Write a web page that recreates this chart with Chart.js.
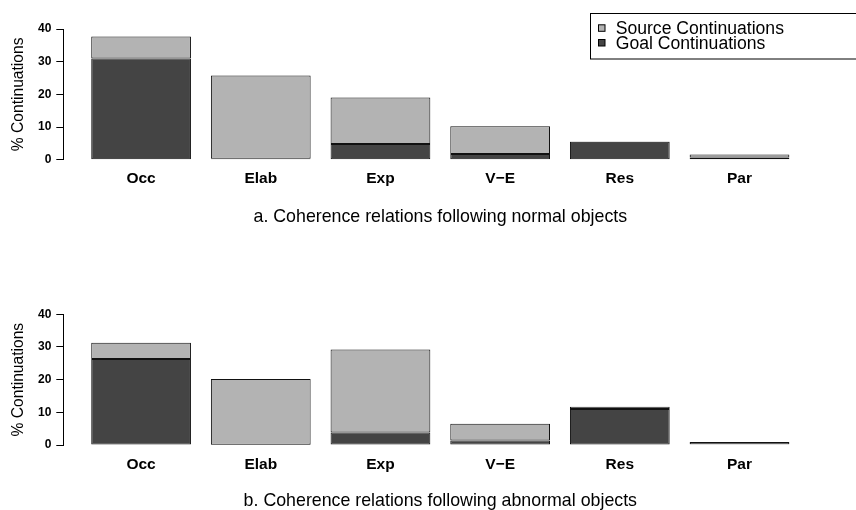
<!DOCTYPE html>
<html><head><meta charset="utf-8">
<script src="https://cdn.jsdelivr.net/npm/chart.js@4.4.0/dist/chart.umd.min.js"></script>
<style>
html,body{margin:0;padding:0;background:#fff;}
#wrap{position:relative;width:856px;height:510px;overflow:hidden;background:#fff;}
.panel{position:absolute;left:0;width:856px;height:255px;}
</style></head><body>
<div id="wrap">
<div class="panel" style="top:0"><canvas id="c1" width="856" height="255"></canvas></div>
<div class="panel" style="top:255px"><canvas id="c2" width="856" height="255"></canvas></div>
</div>
<script>
// ---- data ----
const categories = ['Occ', 'Elab', 'Exp', 'V\u2212E', 'Res', 'Par'];
const seriesNames = ['Source Continuations', 'Goal Continuations'];
const normalSource   = [6.7, 25.5, 14.2, 8.45, 0.1, 0.9];
const normalGoal     = [31.0, 0.3, 4.8, 1.75, 5.5, 0.7];
const abnormalSource = [5.0, 20.1, 25.4, 5.1, 0.7, 0.7];
const abnormalGoal   = [26.3, 0.1, 3.8, 1.4, 11.0, 0.2];
const yTicks = [0, 10, 20, 30, 40];
const captions = ['a. Coherence relations following normal objects',
                  'b. Coherence relations following abnormal objects'];
const yTitle = '% Continuations';

// ---- styling ----
const SOURCE_COLOR = '#b3b3b3';
const GOAL_COLOR = '#444444';
const FONT = '"Liberation Sans", Arial, Helvetica, sans-serif';
// R barplot geometry: width 1, space 0.2 -> midpoints 0.7 + 1.2*i
const mid = i => 0.7 + 1.2 * i;
const X_MIN = -0.08, X_MAX = 7.48;

const legendPlugin = {
  id: 'rlegend',
  afterDraw(chart, args, opts) {
    if (!opts || !opts.show) return;
    const ctx = chart.ctx;
    ctx.save();
    ctx.strokeStyle = '#000';
    ctx.lineWidth = 1;
    ctx.strokeRect(590.5, 13.5, 300, 45.5);
    const items = [[seriesNames[0], SOURCE_COLOR], [seriesNames[1], GOAL_COLOR]];
    ctx.font = '17.6px ' + FONT;
    ctx.textBaseline = 'middle';
    ctx.textAlign = 'left';
    items.forEach((it, i) => {
      const cy = 29.3 + i * 14.7;
      ctx.fillStyle = it[1];
      ctx.fillRect(598.5, cy - 4.5, 6.5, 6.5);
      ctx.strokeStyle = '#000';
      ctx.strokeRect(598.5, cy - 4.5, 6.5, 6.5);
      ctx.fillStyle = '#000';
      ctx.fillText(it[0], 615.7, cy);
    });
    ctx.restore();
  }
};

function makeChart(id, source, goal, caption, padTop, xAxisH, capPadBottom, showLegend) {
  return new Chart(document.getElementById(id), {
    type: 'bar',
    data: {
      datasets: [
        { label: seriesNames[1], data: goal.map((v, i) => ({ x: mid(i), y: v })),
          backgroundColor: GOAL_COLOR, borderColor: '#111', borderWidth: 1, borderSkipped: false },
        { label: seriesNames[0], data: source.map((v, i) => ({ x: mid(i), y: v })),
          backgroundColor: SOURCE_COLOR, borderColor: '#111', borderWidth: 1, borderSkipped: false }
      ]
    },
    options: {
      responsive: false,
      animation: false,
      devicePixelRatio: 1,
      categoryPercentage: 1,
      barPercentage: 1 / 1.2,
      layout: { padding: { top: padTop, left: 0, right: 38.7, bottom: 0 } },
      plugins: {
        legend: { display: false },
        tooltip: { enabled: false },
        title: { display: false },
        rlegend: { show: showLegend }
      },
      scales: {
        x: {
          type: 'linear', stacked: true, min: X_MIN, max: X_MAX, offset: false,
          afterBuildTicks(s) { s.ticks = categories.map((c, i) => ({ value: mid(i) })); },
          afterFit(s) { s.height = xAxisH; },
          grid: { display: false, drawTicks: false, offset: false },
          border: { display: false },
          ticks: {
            autoSkip: false, maxRotation: 0, padding: 10, color: '#000',
            font: { family: FONT, size: 15.5, weight: 'bold' },
            callback: (v, i) => categories[i]
          },
          title: {
            display: true, text: caption, color: '#000',
            font: { family: FONT, size: 17.8, weight: 'normal', lineHeight: 1 },
            padding: { top: 0, bottom: capPadBottom }
          }
        },
        y: {
          stacked: true, min: 0, max: 40,
          afterBuildTicks(s) { s.ticks = yTicks.map(v => ({ value: v })); },
          afterFit(s) { s.width = 63.3; },
          grid: { drawOnChartArea: false, drawTicks: true, tickLength: 7, color: '#000', lineWidth: 1 },
          border: { display: true, color: '#000', width: 1 },
          ticks: { padding: 5, color: '#000', font: { family: FONT, size: 12, weight: 'bold' } },
          title: {
            display: true, text: yTitle, color: '#000',
            font: { family: FONT, size: 15.6, weight: 'normal' },
            padding: { top: 9, bottom: 0 }
          }
        }
      }
    },
    plugins: [legendPlugin]
  });
}

makeChart('c1', normalSource, normalGoal, captions[0], 29, 95.3, 29.4, true);
makeChart('c2', abnormalSource, abnormalGoal, captions[1], 59.3, 65, 0, false);
</script>
</body></html>
